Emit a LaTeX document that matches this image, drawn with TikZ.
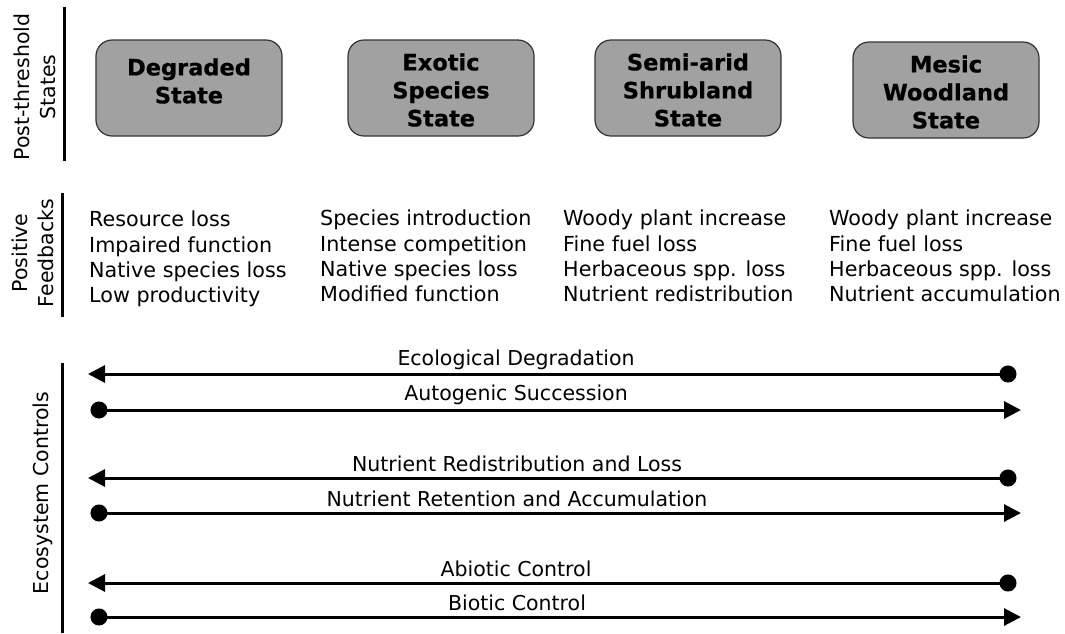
\documentclass[tikz,border=0pt]{standalone}
\usepackage{fontspec}
\setmainfont{DejaVu Sans}
\newfontfamily\heavyfont[FakeBold=0.6]{DejaVu Sans Bold}
\usetikzlibrary{arrows.meta}

\tikzset{
  statebox/.style={draw=black!80, line width=1.2pt, fill=black!37,
    rounded corners=16pt, minimum width=186pt, minimum height=96pt},
  boxtext/.style={font=\fontsize{22.5}{28}\selectfont\heavyfont, align=center},
  fbtext/.style={font=\fontsize{20.7}{25.2}\selectfont, align=left,
    anchor=west, inner sep=0pt},
  sidelabel/.style={font=\fontsize{20.5}{26}\selectfont, align=center, rotate=90},
  divider/.style={line width=3pt},
  ctrllabel/.style={font=\fontsize{20.5}{24}\selectfont, inner sep=0pt},
  toleft/.style={line width=3pt,
    {Triangle[length=17pt,width=17pt]}-{Circle[length=17pt]}},
  toright/.style={line width=3pt,
    {Circle[length=17pt]}-{Triangle[length=17pt,width=17pt]}},
}

\begin{document}
\begin{tikzpicture}[x=1pt,y=-1pt]
	\useasboundingbox (0,0) rectangle (1065,633);

	% row headings
	\node[sidelabel] (post) at (35,87) {Post-threshold\\States};
	\node[sidelabel] (pos) at (33,253) {Positive\\Feedbacks};
	\node[sidelabel] (eco) at (43,493) {Ecosystem Controls};
	\draw[divider] (64,7) -- (64,161);
	\draw[divider] (62,193) -- (62,317);
	\draw[divider] (62,363) -- (62,633);

	% states
	\node[statebox] (deg) at (189,88) {};
	\node[statebox] (exo) at (441,88) {};
	\node[statebox] (semi) at (688,88) {};
	\node[statebox] (mes) at (946,90) {};
	\node[boxtext] (degtxt) at ([yshift=7]deg.center) {Degraded\\State};
	\node[boxtext] (exotxt) at ([yshift=-2]exo.center) {Exotic\\Species\\State};
	\node[boxtext] (semitxt) at ([yshift=-2]semi.center) {Semi-arid\\Shrubland\\State};
	\node[boxtext] (mestxt) at ([yshift=-2]mes.center) {Mesic\\Woodland\\State};

	% positive feedbacks
	\node[fbtext] (fdeg) at (89,259) {Resource loss\\Impaired function\\Native species loss\\Low productivity};
	\node[fbtext] (fexo) at (320,256) {Species introduction\\Intense competition\\Native species loss\\Modified function};
	\node[fbtext] (fsemi) at (563,256) {Woody plant increase\\Fine fuel loss\\Herbaceous spp. loss\\Nutrient redistribution};
	\node[fbtext] (fmes) at (829,256) {Woody plant increase\\Fine fuel loss\\Herbaceous spp. loss\\Nutrient accumulation};

	% ecosystem controls
	\coordinate (a1) at (88,374);
	\coordinate (b1) at (1016.5,374);
	\coordinate (a2) at (90.5,410);
	\coordinate (b2) at (1021,410);
	\coordinate (a3) at (88,478);
	\coordinate (b3) at (1016.5,478);
	\coordinate (a4) at (90.5,513);
	\coordinate (b4) at (1021,513);
	\coordinate (a5) at (88,583);
	\coordinate (b5) at (1016.5,583);
	\coordinate (a6) at (90.5,617);
	\coordinate (b6) at (1021,617);

	\draw[toleft] (a1) -- (b1);
	\draw[toright] (a2) -- (b2);
	\draw[toleft] (a3) -- (b3);
	\draw[toright] (a4) -- (b4);
	\draw[toleft] (a5) -- (b5);
	\draw[toright] (a6) -- (b6);

	\node[ctrllabel] (ecol) at (516,360) {Ecological Degradation};
	\node[ctrllabel] (auto) at (516,395) {Autogenic Succession};
	\node[ctrllabel] (nloss) at (517,464) {Nutrient Redistribution and Loss};
	\node[ctrllabel] (nacc) at (517,499) {Nutrient Retention and Accumulation};
	\node[ctrllabel] (abio) at (516,569) {Abiotic Control};
	\node[ctrllabel] (bio) at (517,603) {Biotic Control};
\end{tikzpicture}
\end{document}
